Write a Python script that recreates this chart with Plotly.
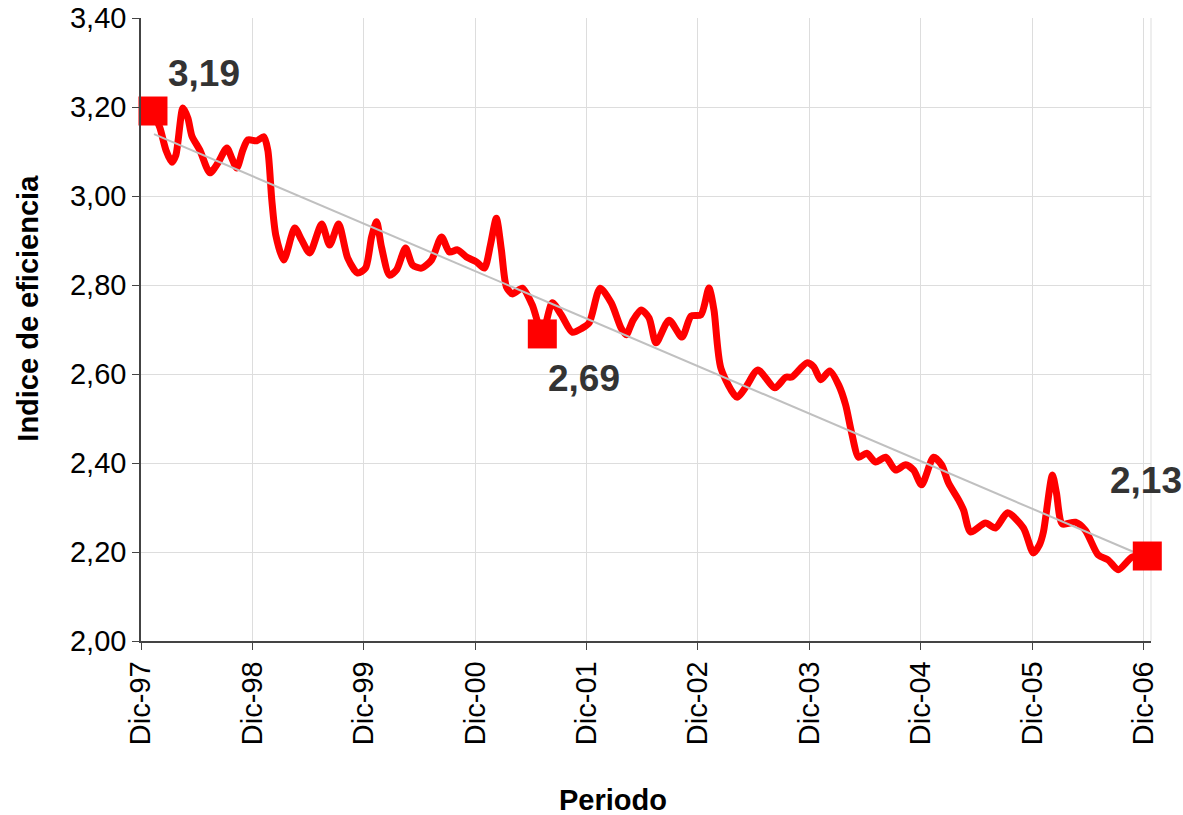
import plotly.graph_objects as go

# Índice de eficiencia, serie mensual (meses transcurridos desde Dic-97)
meses = [1.29, 2.04, 2.69, 3.33, 3.76, 4.52, 5.05, 5.48, 6.34, 7.42,
         8.28, 9.25, 9.78, 10.32, 10.97, 11.51, 12.47, 13.23, 13.66, 14.09,
         14.52, 15.38, 16.56, 17.31, 18.17, 19.46, 20.32, 21.29, 22.26, 23.33,
         24.19, 24.84, 25.38, 25.91, 26.77, 27.53, 28.50, 29.25, 30.22, 31.29,
         32.37, 33.23, 34.09, 35.06, 36.13, 36.99, 37.64, 38.28, 38.82, 39.36,
         40.00, 41.08, 42.15, 43.23, 44.30, 45.27, 46.45, 47.53, 48.28, 49.46,
         50.65, 51.72, 52.26, 53.01, 53.87, 54.73, 55.48, 56.88, 58.28, 59.25,
         60.32, 61.18, 61.72, 62.47, 64.19, 65.16, 66.45, 68.28, 69.46, 70.11,
         71.72, 72.47, 73.23, 74.19, 75.16, 75.91, 76.56, 77.31, 78.17, 79.14,
         80.22, 81.29, 82.37, 83.23, 84.09, 85.38, 86.24, 86.99, 88.07, 88.61,
         89.36, 90.97, 92.05, 93.34, 95.06, 96.13, 96.78, 97.21, 98.18, 98.61,
         99.25, 100.65, 101.72, 103.12, 104.19, 105.27, 106.80, 108.40]
indice = [3.191, 3.153, 3.103, 3.076, 3.092, 3.198, 3.175, 3.135, 3.103, 3.052,
          3.074, 3.108, 3.085, 3.063, 3.103, 3.126, 3.124, 3.133, 3.103, 2.991,
          2.912, 2.856, 2.928, 2.901, 2.872, 2.937, 2.890, 2.937, 2.861, 2.827,
          2.838, 2.908, 2.942, 2.885, 2.822, 2.834, 2.883, 2.845, 2.838, 2.856,
          2.908, 2.874, 2.879, 2.863, 2.852, 2.838, 2.890, 2.950, 2.879, 2.796,
          2.780, 2.793, 2.755, 2.690, 2.760, 2.733, 2.694, 2.703, 2.715, 2.793,
          2.760, 2.703, 2.688, 2.721, 2.744, 2.726, 2.670, 2.721, 2.683, 2.730,
          2.733, 2.793, 2.744, 2.613, 2.548, 2.571, 2.609, 2.569, 2.593, 2.593,
          2.625, 2.616, 2.587, 2.607, 2.575, 2.530, 2.467, 2.413, 2.422, 2.402,
          2.413, 2.384, 2.396, 2.384, 2.351, 2.413, 2.396, 2.355, 2.317, 2.294,
          2.245, 2.265, 2.254, 2.288, 2.254, 2.198, 2.216, 2.245, 2.373, 2.333,
          2.263, 2.267, 2.249, 2.193, 2.182, 2.160, 2.189, 2.191]

# Recta de tendencia (extremos)
tendencia_mes = [1.4, 108.4]
tendencia_valor = [3.139, 2.187]

# Puntos destacados y sus etiquetas
destacados_mes = [1.29, 43.23, 108.40]
destacados_valor = [3.191, 2.690, 2.191]
etiquetas = ["3,19", "2,69", "2,13"]
etiqueta_dx = [51, 42, -1]
etiqueta_dy = [38, -45, 76]

# Eje X
tick_meses = [0, 12, 24, 36, 48, 60, 72, 84, 96, 108]
tick_texto = ["Dic-97", "Dic-98", "Dic-99", "Dic-00", "Dic-01",
              "Dic-02", "Dic-03", "Dic-04", "Dic-05", "Dic-06"]

FUENTE = "Liberation Sans, Arial, sans-serif"

fig = go.Figure()

fig.add_trace(go.Scatter(
    x=meses, y=indice, mode="lines",
    line=dict(color="#ff0000", width=7, shape="spline", smoothing=0.7),
    hoverinfo="skip", showlegend=False,
))

fig.add_trace(go.Scatter(
    x=tendencia_mes, y=tendencia_valor, mode="lines",
    line=dict(color="#c0c0c0", width=2),
    hoverinfo="skip", showlegend=False,
))

fig.add_trace(go.Scatter(
    x=destacados_mes, y=destacados_valor, mode="markers",
    marker=dict(symbol="square", size=29, color="#ff0000", line=dict(width=0)),
    cliponaxis=False,
    hoverinfo="skip", showlegend=False,
))

for xm, yv, txt, dx, dy in zip(destacados_mes, destacados_valor, etiquetas,
                               etiqueta_dx, etiqueta_dy):
    fig.add_annotation(
        x=xm, y=yv, xref="x", yref="y", text=f"<b>{txt}</b>",
        showarrow=False, xshift=dx, yshift=dy,
        font=dict(family=FUENTE, size=37, color="#333333"),
    )

# Títulos de los ejes
fig.add_annotation(
    x=0.467, y=-0.255, xref="paper", yref="paper",
    text="<b>Periodo</b>", showarrow=False,
    xanchor="center", yanchor="middle",
    font=dict(family=FUENTE, size=29, color="#000000"),
)
fig.add_annotation(
    x=-0.1119, y=0.535, xref="paper", yref="paper",
    text="<b>Indice de eficiencia</b>", showarrow=False, textangle=-90,
    xanchor="center", yanchor="middle",
    font=dict(family=FUENTE, size=29, color="#000000"),
)

fig.add_shape(type="line", xref="paper", yref="paper", x0=1, x1=1, y0=0, y1=1,
              line=dict(color="#dddddd", width=1), layer="below")

fig.update_layout(
    width=1183, height=815,
    margin=dict(l=141, r=32, t=18, b=174, autoexpand=False),
    paper_bgcolor="white", plot_bgcolor="white",
    separators=",.",
    font=dict(family=FUENTE, size=29, color="#000000"),
    xaxis=dict(
        range=[0, 108.8],
        automargin=False,
        tickmode="array", tickvals=tick_meses, ticktext=tick_texto,
        tickangle=-90,
        tickfont=dict(family=FUENTE, size=29, color="#000000"),
        showgrid=True, gridcolor="#dddddd", gridwidth=1,
        showline=True, linecolor="#444444", linewidth=1.5,
        ticks="outside", ticklen=7, tickcolor="#444444",
        zeroline=False,
    ),
    yaxis=dict(
        range=[2.0, 3.4],
        automargin=False,
        tickmode="array",
        tickvals=[2.0, 2.2, 2.4, 2.6, 2.8, 3.0, 3.2, 3.4],
        tickformat=".2f",
        tickfont=dict(family=FUENTE, size=29, color="#000000"),
        showgrid=True, gridcolor="#dddddd", gridwidth=1,
        showline=True, linecolor="#444444", linewidth=1.5,
        ticks="outside", ticklen=7, tickcolor="#444444",
        zeroline=False,
    ),
)

fig.write_html("out.html")
